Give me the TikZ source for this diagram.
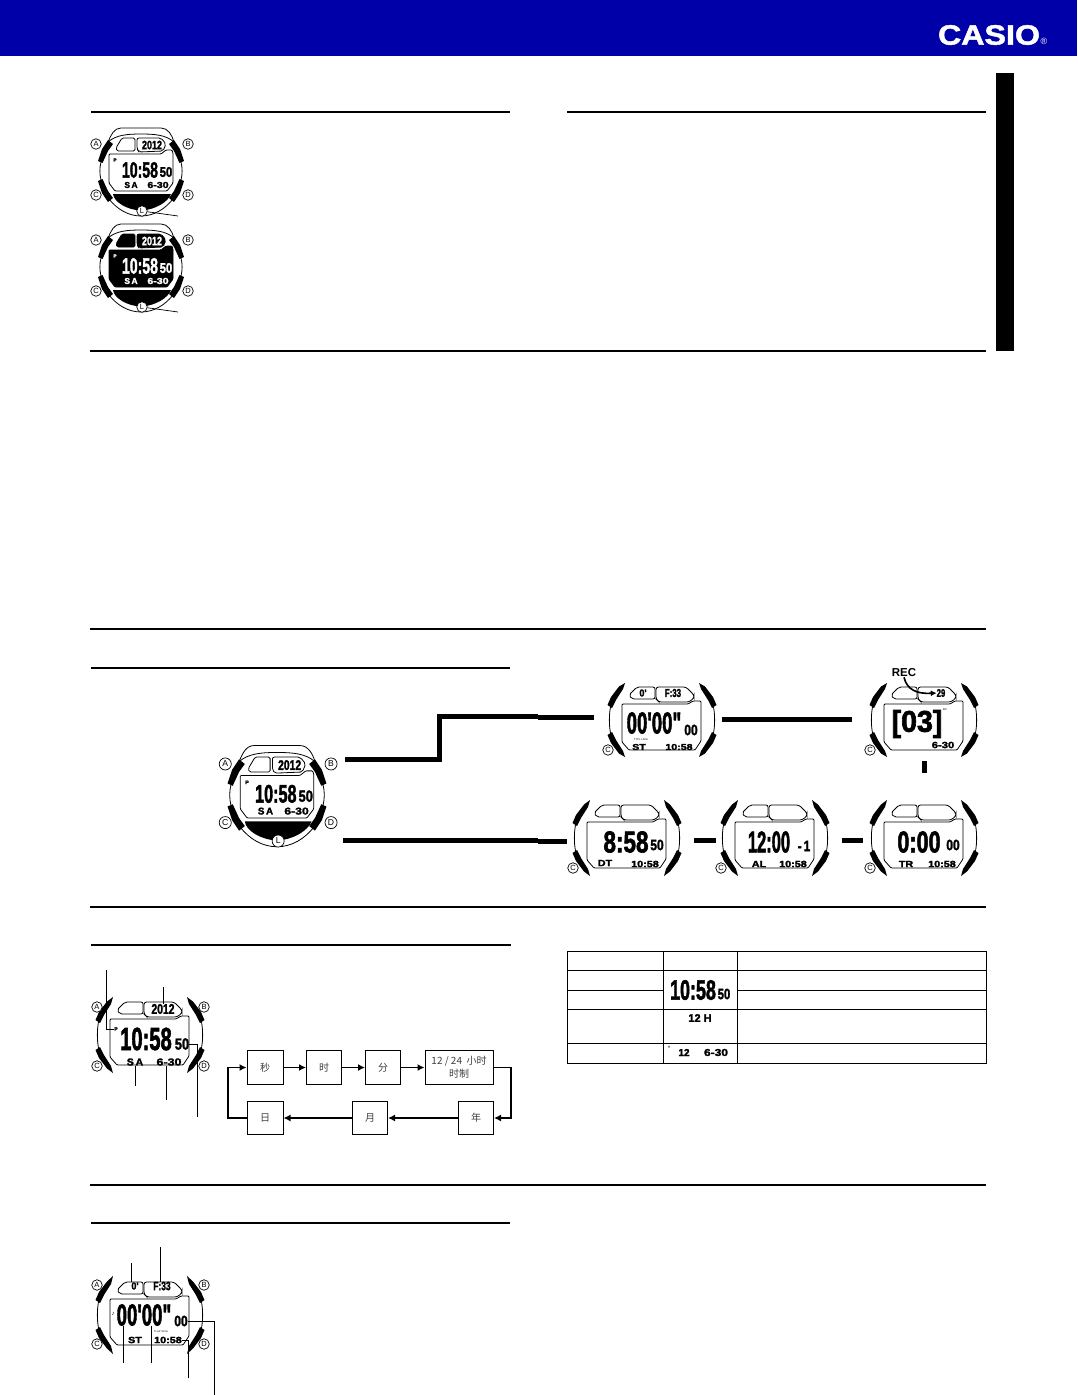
\documentclass[tikz,border=0pt]{standalone}
\usepackage{fontspec}
\usepackage{graphicx}
\setmainfont{Liberation Sans}
\newfontfamily\cjkfont{Noto Sans CJK SC}
\newfontfamily\lcdfont[UprightFeatures={FakeBold=2.2}]{Liberation Sans Bold}
\newfontfamily\logofont[UprightFeatures={FakeBold=1.6}]{Liberation Sans Bold}
\usetikzlibrary{arrows.meta}
\definecolor{casioblue}{HTML}{0000A8}
\newcommand\lcd[3]{\scalebox{#2}[1]{\fontsize{#1}{#1}\lcdfont\selectfont #3}}
\tikzset{
  lcdtext/.style={inner sep=0pt,outer sep=0pt,transform shape},
  btnmark/.style={circle,draw=black,line width=.7pt,fill=white,minimum size=10.5pt,inner sep=0pt,transform shape,font=\fontsize{7.5}{7.5}\selectfont},
  frameline/.style={line width=.8pt,black},
  sectionrule/.style={line width=1.6pt,black},
  thinrule/.style={line width=1.1pt,black},
  leader/.style={line width=.7pt,black},
  modelink/.style={line width=5pt,black},
  flowbox/.style={draw=black,line width=1pt,fill=white,inner sep=0pt,align=center,font=\cjkfont\fontsize{10}{13}\selectfont,text=black!75},
  flowlink/.style={line width=1.8pt,black,-{Latex[length=7pt,width=7pt]}},
  cellline/.style={line width=.9pt,black},
}
% type A: full bezel
\newcommand\watchA[6]{%
\begin{scope}[shift={(#2,#3)},scale=#4,name prefix=#1-]
 \draw[frameline] (-33,-29) .. controls (-30,-36) and (-27,-43) .. (-20,-43) -- (20,-43) .. controls (27,-43) and (31,-36) .. (33,-29);
 \draw[frameline] (-33,-29) .. controls (-25,-36) and (-14,-37) .. (0,-37) .. controls (14,-37) and (25,-36) .. (33,-29);
 \draw[frameline] (-40,-9) .. controls (-41.5,-3) and (-41.5,3) .. (-40,9);
 \draw[frameline] (40,-9) .. controls (41.5,-3) and (41.5,3) .. (40,9);
 \draw[frameline] (-32,28) .. controls (-24,38) and (-13,45) .. (0,45) .. controls (13,45) and (24,38) .. (32,28);
 \foreach \sx/\sy in {1/1,-1/1,1/-1,-1/-1}{
  \fill[black,xscale=\sx,yscale=\sy] (-43,-10) -- (-38.5,-8) -- (-33,-20) -- (-28,-27) -- (-33,-31) -- (-39,-22) -- cycle;
 }
 \draw[frameline,fill=#5,rounded corners=1.5pt] (-25,-23) -- (-19,-33) -- (-6,-33) -- (-6,-20) -- (-24,-20) -- cycle;
 \draw[frameline,fill=#5,rounded corners=2pt] (-4,-33) -- (20,-33) -- (25,-27) -- (22,-20) -- (-2,-19) -- (-4,-22) -- cycle;
 \draw[frameline,fill=#5,rounded corners=1pt] (-32,-17) -- (20,-17) -- (25,-21) -- (31,-21) -- (32,-18) -- (32,12) -- (26,20) -- (-26,20) -- (-32,12) -- cycle;
 \fill[black] (-28,23) -- (30,23) .. controls (27,31) and (14,39) .. (0,39.5) .. controls (-14,39) and (-27,31) .. (-28,23) -- cycle;
 \node[lcdtext,text=#6] (time) at (-1,-1) {\lcd{22}{.64}{10:58}};
 \node[lcdtext,text=#6] (sec) at (25,1) {\lcd{14}{.8}{50}};
 \node[lcdtext,text=#6] (day) at (-10,14) {\lcd{8.5}{1}{S\,A}};
 \node[lcdtext,text=#6] (date) at (17,14) {\lcd{8.5}{1.25}{6-30}};
 \node[lcdtext,text=#6] (year) at (11,-26) {\lcd{12}{.75}{2012}};
 \node[lcdtext,text=#6] (pm) at (-26,-11) {\lcd{4.5}{1}{P}};
 \node[btnmark] (A) at (-45,-27) {A};
 \node[btnmark] (B) at (47,-27) {B};
 \node[btnmark] (C) at (-45,24) {C};
 \node[btnmark] (D) at (47,24) {D};
 \node[btnmark] (L) at (1,40) {L};
\end{scope}}
% type B: side lugs only; #4 = half height, #5 = content
\newcommand\watchB[5]{%
\begin{scope}[shift={(#2,#3)},name prefix=#1-]
 \foreach \sx/\sy in {1/1,-1/1,1/-1,-1/-1}{
  \fill[black,xscale=\sx,yscale=\sy] (-54.5,-15) -- (-50,-12) -- (-46,-20) -- (-39,-31) -- (-37,-#4) -- (-43,-33.5) -- (-51,-23) -- cycle;
 }
 \draw[frameline] (-51.5,-13) .. controls (-53,-5) and (-53,5) .. (-51.5,13);
 \draw[frameline] (51.5,-13) .. controls (53,-5) and (53,5) .. (51.5,13);
 \draw[frameline,rounded corners=2pt] (-33,-25) -- (-25,-33) -- (-7,-33) -- (-7,-21) -- (-30,-21) -- cycle;
 \draw[frameline,rounded corners=2.5pt] (-6,-33) -- (24,-33) -- (32,-25) -- (32,-22) -- (27,-18) -- (-3,-18) -- (-6,-21) -- cycle;
 \draw[frameline,rounded corners=1pt] (-40,-16) -- (-6,-16) -- (26,-16) -- (31,-19) -- (39,-19) -- (39,21) -- (33,30) -- (-33,30) -- (-40,22) -- cycle;
 #5
\end{scope}}
\begin{document}
\begin{tikzpicture}[x=1pt,y=-1pt]
\useasboundingbox (0,0) rectangle (1077,1395);
\fill[white] (0,0) rectangle (1077,1395);
% header
\fill[casioblue] (0,0) rectangle (1077,56);
\fill[black] (996,73) rectangle (1014,351);
\node[inner sep=0pt,text=white] (logo) at (989,35) {\scalebox{1.15}[1]{\fontsize{28}{28}\logofont\selectfont CASIO}};
\node[inner sep=0pt,text=white] (reg) at (1044,41) {\fontsize{9}{9}\selectfont ®};
% rules
\draw[sectionrule] (91,112) -- (510,112);
\draw[sectionrule] (567,112) -- (986,112);
\draw[sectionrule] (90,351) -- (986,351);
\draw[sectionrule] (90,629) -- (986,629);
\draw[sectionrule] (91,668) -- (510,668);
\draw[sectionrule] (90,907) -- (986,907);
\draw[thinrule] (91,945) -- (511,945);
\draw[thinrule] (90,1185) -- (986,1185);
\draw[thinrule] (91,1223) -- (510,1223);
% top-left watches
\watchA{w1}{141}{171}{1}{white}{black}
\watchA{w2}{141}{267}{1}{black}{white}
\coordinate (w1end) at (178,216);
\coordinate (w2end) at (178,312);
\draw[leader] (w1-L) -- (w1end);
\draw[leader] (w2-L) -- (w2end);
% mode links
\coordinate (m1) at (345,759);
\coordinate (m2) at (439,759);
\coordinate (m3) at (439,716.5);
\coordinate (m4) at (538,716.5);
\coordinate (m5) at (538,717.5);
\coordinate (m6) at (594,717.5);
\coordinate (n1) at (343,840);
\coordinate (n2) at (538,840);
\coordinate (n3) at (538,841);
\coordinate (n4) at (567,841);
\coordinate (p1) at (694,840);
\coordinate (p2) at (716,840);
\coordinate (q1) at (842,840);
\coordinate (q2) at (863,840);
\coordinate (r1) at (722,719.5);
\coordinate (r2) at (852,719.5);
\coordinate (s1) at (924,761);
\coordinate (s2) at (924,773);
\draw[modelink] (m1) -- (m2) -- (m3) -- (m4);
\draw[modelink] (m5) -- (m6);
\draw[modelink] (n1) -- (n2);
\draw[modelink] (n3) -- (n4);
\draw[modelink] (p1) -- (p2);
\draw[modelink] (q1) -- (q2);
\draw[modelink] (r1) -- (r2);
\draw[modelink] (s1) -- (s2);
% mode watches
\watchA{main}{277}{795}{1.15}{white}{black}
\watchB{st}{662}{720}{37}{
 \node[lcdtext] (a) at (-19,-27) {\lcd{10}{.9}{0'}};
 \node[lcdtext] (b) at (11,-27) {\lcd{11.5}{.68}{F:33}};
 \node[lcdtext] (c) at (-8,3) {\lcd{30}{.62}{00'00"}};
 \node[lcdtext] (d) at (29,10) {\lcd{15}{.8}{00}};
 \node[lcdtext] (e) at (-23,27) {\lcd{8.5}{1.25}{ST}};
 \node[lcdtext] (f) at (17,27) {\lcd{8.5}{1.25}{10:58}};
 \node[lcdtext] (g) at (-21,20) {\fontsize{2.6}{2.6}\selectfont TYPL LAPA};
 \node[btnmark] (C) at (-54,30) {C};
}
\watchB{rec}{924}{720}{37}{
 \node[lcdtext] (a) at (17,-27) {\lcd{11}{.7}{29}};
 \node[lcdtext] (b) at (-7,4) {\lcd{30}{.95}{[03]}};
 \node[lcdtext] (c) at (19,25) {\lcd{9}{1.25}{6-30}};
 \node[lcdtext] (d) at (21,-11) {\fontsize{3}{3}\selectfont km};
 \node[btnmark] (C) at (-54,30) {C};
}
\node[inner sep=0pt] (rectext) at (904,673) {\fontsize{11.5}{11.5}\selectfont\bfseries REC};
\draw[line width=1.6pt,-{Latex[length=6pt,width=6pt]}] (rectext.south) .. controls (907,690) and (917,694) .. (rec-a.west);
\watchB{dt}{627}{838}{38}{
 \node[lcdtext] (a) at (-1,4) {\lcd{30}{.75}{8:58}};
 \node[lcdtext] (b) at (30,7) {\lcd{15}{.8}{50}};
 \node[lcdtext] (c) at (-22,25) {\lcd{9}{1.2}{DT}};
 \node[lcdtext] (d) at (18,26) {\lcd{9}{1.2}{10:58}};
 \node[btnmark] (C) at (-54,30) {C};
}
\watchB{al}{775}{838}{38}{
 \node[lcdtext] (a) at (-6,4) {\lcd{30}{.55}{12:00}};
 \node[lcdtext] (b) at (29,8) {\lcd{15}{.8}{-\,1}};
 \node[lcdtext] (c) at (-16,26) {\lcd{9}{1.2}{AL}};
 \node[lcdtext] (d) at (18,26) {\lcd{9}{1.2}{10:58}};
 \node[btnmark] (C) at (-54,30) {C};
}
\watchB{tr}{924}{838}{38}{
 \node[lcdtext] (a) at (-5,4) {\lcd{30}{.72}{0:00}};
 \node[lcdtext] (b) at (29,7) {\lcd{15}{.8}{00}};
 \node[lcdtext] (c) at (-18,26) {\lcd{9}{1.2}{TR}};
 \node[lcdtext] (d) at (18,26) {\lcd{9}{1.2}{10:58}};
 \node[btnmark] (C) at (-54,30) {C};
}
% time section watch
\watchB{tm}{150}{1035}{38}{
 \node[lcdtext] (year) at (13,-26) {\lcd{14}{.74}{2012}};
 \node[lcdtext] (time) at (-4,4) {\lcd{32}{.63}{10:58}};
 \node[lcdtext] (sec) at (32,9) {\lcd{16}{.8}{50}};
 \node[lcdtext] (day) at (-15,27) {\lcd{10}{1.05}{S\,A}};
 \node[lcdtext] (date) at (19,27) {\lcd{10}{1.25}{6-30}};
 \node[lcdtext] (pm) at (-34,-6) {\lcd{5}{1}{P}};
 \node[btnmark] (A) at (-53,-28) {A};
 \node[btnmark] (B) at (54,-28) {B};
 \node[btnmark] (C) at (-53,31) {C};
 \node[btnmark] (D) at (54,31) {D};
}
\coordinate (tl1) at (106.5,970);
\coordinate (tl2) at (163,987);
\coordinate (tl3) at (135,1086);
\coordinate (tl4) at (166,1100);
\coordinate (tl5) at (197,1117);
\draw[leader] (tl1) |- (tm-pm.west);
\draw[leader] (tl2) -- (tm-year.north);
\draw[leader] (tl3) -- (tm-day.south -| tl3);
\draw[leader] (tl4) -- (tm-date.south -| tl4);
\draw[leader] (tl5) |- (tm-sec.east);
% flow
\node[flowbox,minimum width=36pt,minimum height=34pt] (f1) at (265,1067.5) {秒};
\node[flowbox,minimum width=35pt,minimum height=34pt] (f2) at (324,1067.5) {时};
\node[flowbox,minimum width=35pt,minimum height=34pt] (f3) at (383,1067.5) {分};
\node[flowbox,minimum width=68pt,minimum height=34pt] (f4) at (459,1067.5) {12 / 24 \ 小时\\时制};
\node[flowbox,minimum width=35pt,minimum height=33pt] (f5) at (476,1118) {年};
\node[flowbox,minimum width=35pt,minimum height=33pt] (f6) at (370,1118) {月};
\node[flowbox,minimum width=36pt,minimum height=33pt] (f7) at (265,1118) {日};
\coordinate (fr) at (511,1067.5);
\coordinate (fl) at (228,1118);
\draw[flowlink] (f1) -- (f2);
\draw[flowlink] (f2) -- (f3);
\draw[flowlink] (f3) -- (f4);
\draw[flowlink] (f4.east) -- (fr) |- (f5.east);
\draw[flowlink] (f5) -- (f6);
\draw[flowlink] (f6) -- (f7);
\draw[flowlink] (f7.west) -- (fl) |- (f1.west);
% table
\draw[cellline] (567,951) rectangle (986,1063);
\draw[cellline] (663,951) -- (663,1063);
\draw[cellline] (737,951) -- (737,1063);
\draw[cellline] (567,970) -- (986,970);
\draw[cellline] (567,990) -- (663,990);
\draw[cellline] (737,990) -- (986,990);
\draw[cellline] (567,1009) -- (986,1009);
\draw[cellline] (567,1043) -- (986,1043);
\node[inner sep=0pt] (t1) at (693,990) {\lcd{28}{.64}{10:58}};
\node[inner sep=0pt] (t2) at (724,994) {\lcd{15}{.75}{50}};
\node[inner sep=0pt] (t3) at (700,1018) {\lcd{11}{1}{12 H}};
\node[inner sep=0pt] (t4) at (669,1048) {\lcd{6}{1}{'}};
\node[inner sep=0pt] (t5) at (684,1052.5) {\lcd{10}{1}{12}};
\node[inner sep=0pt] (t6) at (716,1052.5) {\lcd{10}{1.2}{6-30}};
% stopwatch section watch
\watchB{sw}{150}{1315}{39}{
 \node[lcdtext] (lap) at (-15,-29) {\lcd{10}{.9}{0'}};
 \node[lcdtext] (fin) at (12,-29) {\lcd{12}{.7}{F:33}};
 \node[lcdtext] (min) at (-6,0) {\lcd{30}{.62}{00'00"}};
 \node[lcdtext] (hun) at (31,6) {\lcd{15}{.8}{00}};
 \node[lcdtext] (mode) at (-15,25) {\lcd{9}{1.2}{ST}};
 \node[lcdtext] (clock) at (18,25) {\lcd{9}{1.2}{10:58}};
 \node[lcdtext] (tiny) at (11,17) {\fontsize{2.6}{2.6}\selectfont TLAP SPLA};
 \node[lcdtext] (note) at (-37,-1) {\fontsize{6}{6}\selectfont ♪};
 \node[btnmark] (A) at (-53,-30) {A};
 \node[btnmark] (B) at (54,-30) {B};
 \node[btnmark] (C) at (-53,29) {C};
 \node[btnmark] (D) at (54,29) {D};
}
\coordinate (sl1) at (131,1263);
\coordinate (sl2) at (160,1247);
\coordinate (sl3) at (123,1363);
\coordinate (sl4) at (151,1363);
\coordinate (sl5) at (188,1378);
\coordinate (sl6) at (214,1395);
\draw[leader] (sl1) -- (sl1 |- sw-lap.north);
\draw[leader] (sl2) -- (sl2 |- sw-fin.north);
\draw[leader] (sl3) -- (sl3 |- sw-min.south);
\draw[leader] (sl4) -- (sl4 |- sw-min.south);
\draw[leader] (sl5) |- (sw-clock.east);
\draw[leader] (sl6) |- (sw-hun.east);
\end{tikzpicture}
\end{document}
